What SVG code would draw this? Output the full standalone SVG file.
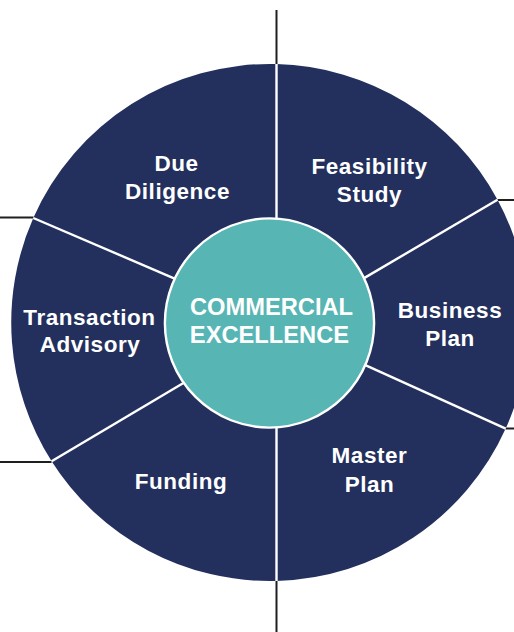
<svg xmlns="http://www.w3.org/2000/svg" width="514" height="632" viewBox="0 0 514 632">
  <style>
    .sector { fill: #23305d; }
    .divider { stroke: #ffffff; stroke-width: 2.4; fill: none; }
    .tick { stroke: #1f1f1f; stroke-width: 2; fill: none; }
    .label { font-family: "Liberation Sans", Arial, sans-serif; font-weight: bold; font-size: 22.5px; letter-spacing: 0.55px; fill: #ffffff; text-anchor: middle; }
    .hub-label { font-family: "Liberation Sans", Arial, sans-serif; font-weight: bold; font-size: 23.7px; fill: #ffffff; text-anchor: middle; }
  </style>
  <rect width="514" height="632" fill="#ffffff"/>

  <!-- outer tick marks -->
  <g id="ticks">
    <line class="tick" x1="276.5" y1="10" x2="276.5" y2="64.5"/>
    <line class="tick" x1="276.5" y1="580.5" x2="276.5" y2="632"/>
    <line class="tick" x1="0" y1="217.5" x2="33.5" y2="217.5"/>
    <line class="tick" x1="0" y1="462" x2="51.5" y2="462"/>
    <line class="tick" x1="497.5" y1="200" x2="514" y2="200"/>
    <line class="tick" x1="505.5" y1="428.5" x2="514" y2="428.5"/>
  </g>

  <!-- wheel sectors -->
  <g id="due-diligence">
    <path class="sector" d="M181 281.3 L33.3 218 A258.5 258.5 0 0 1 276.5 64.08 L276.5 225 L269.5 323 Z"/>
    <text class="label" x="176.5" y="170.5">Due</text>
    <text class="label" x="177.5" y="198.5">Diligence</text>
  </g>
  <g id="feasibility-study">
    <path class="sector" d="M276.5 225 L276.5 64.08 A258.5 258.5 0 0 1 497.5 199.7 L359.4 280.9 L269.5 323 Z"/>
    <text class="label" x="369.5" y="173.5">Feasibility</text>
    <text class="label" x="369.5" y="202">Study</text>
  </g>
  <g id="business-plan">
    <path class="sector" d="M359.4 280.9 L497.5 199.7 A258.5 258.5 0 0 1 505.7 428.6 L359.8 362.6 L269.5 323 Z"/>
    <text class="label" x="450" y="317.5">Business</text>
    <text class="label" x="450" y="345.5">Plan</text>
  </g>
  <g id="master-plan">
    <path class="sector" d="M359.8 362.6 L505.7 428.6 A258.5 258.5 0 0 1 276.5 580.92 L276.5 421 L269.5 323 Z"/>
    <text class="label" x="369.5" y="462.5">Master</text>
    <text class="label" x="369.5" y="491.5">Plan</text>
  </g>
  <g id="funding">
    <path class="sector" d="M276.5 421 L276.5 580.92 A258.5 258.5 0 0 1 51.6 461.2 L190.6 378.8 L269.5 323 Z"/>
    <text class="label" x="181" y="488.5">Funding</text>
  </g>
  <g id="transaction-advisory">
    <path class="sector" d="M190.6 378.8 L51.6 461.2 A258.5 258.5 0 0 1 33.3 218 L181 281.3 L269.5 323 Z"/>
    <text class="label" x="89.5" y="324.5">Transaction</text>
    <text class="label" x="90" y="352">Advisory</text>
  </g>

  <!-- white dividers between sectors -->
  <g id="dividers">
    <line class="divider" x1="276.5" y1="64" x2="276.5" y2="225"/>
    <line class="divider" x1="276.5" y1="421" x2="276.5" y2="581"/>
    <line class="divider" x1="33.3" y1="218" x2="181" y2="281.3"/>
    <line class="divider" x1="497.5" y1="199.7" x2="359.4" y2="280.9"/>
    <line class="divider" x1="505.7" y1="428.6" x2="359.8" y2="362.6"/>
    <line class="divider" x1="51.6" y1="461.2" x2="190.6" y2="378.8"/>
  </g>

  <!-- central hub -->
  <g id="hub">
    <circle cx="269.5" cy="323" r="104.6" fill="#57b5b3" stroke="#ffffff" stroke-width="2.4"/>
    <text class="hub-label" x="271.5" y="315">COMMERCIAL</text>
    <text class="hub-label" x="269.5" y="343">EXCELLENCE</text>
  </g>
</svg>
